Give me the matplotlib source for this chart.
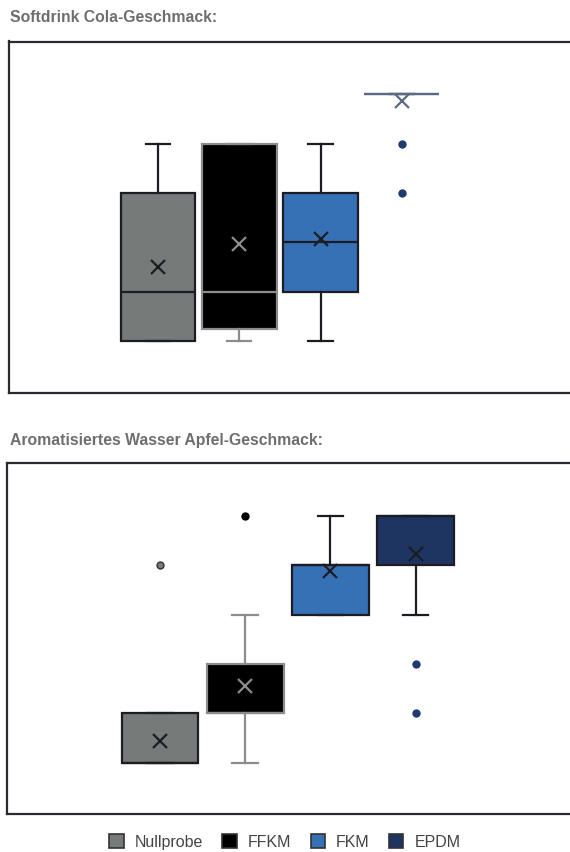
import matplotlib
matplotlib.use('Agg')
import matplotlib.pyplot as plt
from matplotlib.patches import Patch

# Daten
serien = ['Nullprobe', 'FFKM', 'FKM', 'EPDM']

cola_titel = 'Softdrink Cola-Geschmack:'
cola_q1 = [1, 1.25, 2, 6]
cola_med = [2, 2, 3, 6]
cola_q3 = [4, 5, 4, 6]
cola_lo = [1, 1, 1, 6]
cola_hi = [5, 5, 5, 6]
cola_mean = [2.5, 2.97, 3.06, 5.87]
cola_fliers = [[], [], [], [5, 4]]

apfel_titel = 'Aromatisiertes Wasser Apfel-Geschmack:'
apfel_q1 = [1, 2, 4, 5]
apfel_med = [1, 2, 5, 6]
apfel_q3 = [2, 3, 5, 6]
apfel_lo = [1, 1, 4, 4]
apfel_hi = [2, 4, 6, 6]
apfel_mean = [1.44, 2.55, 4.88, 5.22]
apfel_fliers = [[5], [6], [], [3, 2]]

fuellung = ['#767a79', '#000000', '#3671b6', '#1e3461']
dunkel = '#1c1c22'
grau = '#8c8c8c'
blaugrau = '#5c6b82'
navy = '#1f3a6e'

plt.rcParams['font.family'] = ['Liberation Sans', 'DejaVu Sans']


def stats(q1, med, q3, lo, hi, mean, fl):
    return [dict(q1=q1[i], med=med[i], q3=q3[i], whislo=lo[i], whishi=hi[i],
                 mean=mean[i], fliers=fl[i], label=serien[i]) for i in range(len(serien))]


def boxplot(ax, st, breite, linien, flierfarben):
    '''linien: Farbe fuer Rand/Whisker/Median/Mittelwert je Box'''
    r = ax.bxp(st, positions=[1, 2, 3, 4], widths=breite, capwidths=0.3,
               patch_artist=True, showmeans=True, showfliers=True,
               meanprops=dict(marker='x', markersize=10, markeredgewidth=1.6),
               flierprops=dict(marker='o', markersize=5),
               boxprops=dict(linewidth=1.6), whiskerprops=dict(linewidth=1.6),
               capprops=dict(linewidth=1.6), medianprops=dict(linewidth=1.6))
    for i in range(4):
        c = linien[i]
        r['boxes'][i].set_facecolor(fuellung[i])
        r['boxes'][i].set_edgecolor(c)
        r['medians'][i].set_color(c)
        for w in r['whiskers'][2*i:2*i+2]:
            w.set_color(c)
        for k in r['caps'][2*i:2*i+2]:
            k.set_color(c)
        r['means'][i].set_markeredgecolor(c)
        f, e = flierfarben[i]
        r['fliers'][i].set_markerfacecolor(f)
        r['fliers'][i].set_markeredgecolor(e)
    ax.set_xticks([])
    ax.set_yticks([])
    ax.spines['right'].set_visible(False)
    for s in ['left', 'top', 'bottom']:
        ax.spines[s].set_linewidth(1.6)
        ax.spines[s].set_color('#2a2a30')


fig = plt.figure(figsize=(5.7, 8.52), dpi=100)

ax1 = fig.add_axes([9/570, 1-392.7/852, 561/570, 351.2/852])
boxplot(ax1, stats(cola_q1, cola_med, cola_q3, cola_lo, cola_hi, cola_mean, cola_fliers), 0.92,
        [dunkel, grau, dunkel, blaugrau],
        [(dunkel, dunkel), (grau, grau), (navy, navy), (navy, navy)])
ax1.set_xlim(-0.833, 6.07)
ax1.set_ylim(-0.05, 7.07)

ax2 = fig.add_axes([7.3/570, 1-814/852, 562.7/570, 351/852])
boxplot(ax2, stats(apfel_q1, apfel_med, apfel_q3, apfel_lo, apfel_hi, apfel_mean, apfel_fliers), 0.9,
        [dunkel, grau, dunkel, dunkel],
        [('#7a7a7a', '#333333'), ('#000000', '#000000'), (navy, navy), (navy, navy)])
ax2.set_xlim(-0.79, 5.81)
ax2.set_ylim(-0.04, 7.07)

fig.text(10/570, 1-18/852, cola_titel, fontsize=11.3, fontweight='bold', color='#6d6e70', va='center')
fig.text(10/570, 1-440/852, apfel_titel, fontsize=11.3, fontweight='bold', color='#6d6e70', va='center')

handles = [Patch(facecolor=fuellung[i], edgecolor='#333333', linewidth=1.2, label=serien[i]) for i in range(4)]
fig.legend(handles=handles, loc='center', bbox_to_anchor=(0.5, 1-842/852), ncol=4, frameon=False,
           fontsize=11.5, handlelength=0.9, handleheight=0.9, handletextpad=0.7, columnspacing=1.2,
           labelcolor='#444444', borderpad=0.1)

fig.savefig('out.png', dpi=100)
